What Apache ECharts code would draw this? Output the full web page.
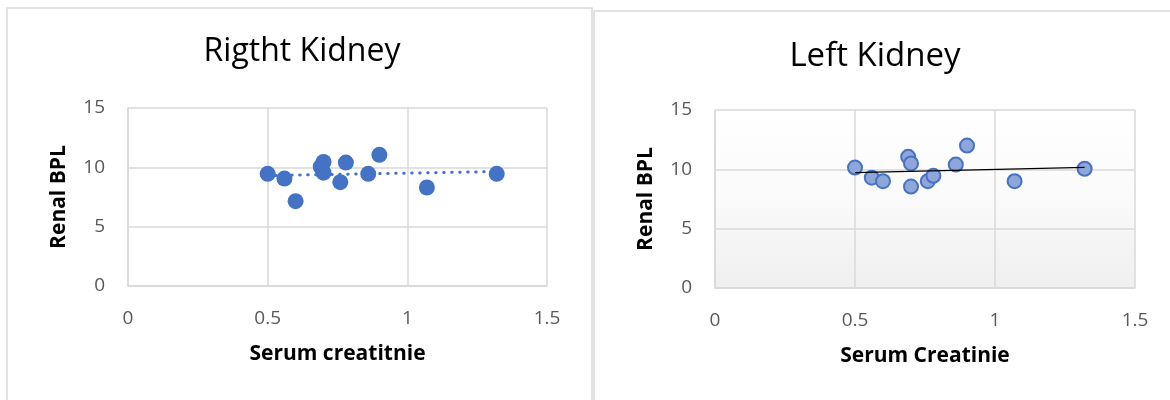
<!DOCTYPE html>
<html>
<head>
<meta charset="utf-8">
<script src="https://cdn.jsdelivr.net/npm/echarts@6/dist/echarts.min.js"></script>
<style>
  html, body { margin: 0; padding: 0; background: #fff; }
  #chart { width: 1170px; height: 400px; }
</style>
</head>
<body>
<div id="chart"></div>
<script>
// Right kidney (left panel)
var rightCreat = [0.50, 0.56, 0.60, 0.70, 0.69, 0.70, 0.78, 0.76, 0.86, 0.90, 1.07, 1.32]
var rightBpl = [9.45, 9.05, 7.15, 10.45, 10.05, 9.55, 10.4, 8.75, 9.45, 11.05, 8.3, 9.45]
// Left kidney (right panel)
var leftCreat = [0.50, 0.56, 0.60, 0.69, 0.70, 0.70, 0.76, 0.78, 0.86, 0.90, 1.07, 1.32]
var leftBpl = [10.15, 9.3, 9.0, 11.05, 10.5, 8.55, 9.0, 9.45, 10.4, 12.0, 9.0, 10.05]

var xTicks = [0, 0.5, 1, 1.5]
var yTicks = [0, 5, 10, 15]

function pairs (xs, ys) {
  return xs.map(function (x, i) { return [x, ys[i]] })
}

// least squares trendline endpoints
function trend (xs, ys) {
  var n = xs.length
  var mx = xs.reduce(function (a, b) { return a + b }, 0) / n
  var my = ys.reduce(function (a, b) { return a + b }, 0) / n
  var sxy = 0, sxx = 0
  for (var i = 0; i < n; i++) {
    sxy += (xs[i] - mx) * (ys[i] - my)
    sxx += (xs[i] - mx) * (xs[i] - mx)
  }
  var k = sxy / sxx
  var b = my - k * mx
  var x0 = Math.min.apply(null, xs)
  var x1 = Math.max.apply(null, xs)
  return [[x0, k * x0 + b], [x1, k * x1 + b]]
}

var gridColor = '#d9d9d9'
var labelColor = '#595959'
var font = 'Open Sans'

function xAxisFor (idx, name) {
  return {
    gridIndex: idx,
    type: 'value',
    min: xTicks[0],
    max: xTicks[xTicks.length - 1],
    interval: 0.5,
    name: name,
    nameLocation: 'middle',
    nameGap: 58,
    nameTextStyle: { fontFamily: font, fontWeight: 'bold', fontSize: 21, color: '#000' },
    axisLine: { show: true, lineStyle: { color: gridColor, width: 1.5 } },
    axisTick: { show: false },
    splitLine: { show: true, lineStyle: { color: gridColor, width: 1.5 } },
    axisLabel: { margin: 23, fontFamily: font, fontSize: 19, color: labelColor }
  }
}

function yAxisFor (idx) {
  return {
    gridIndex: idx,
    type: 'value',
    min: yTicks[0],
    max: yTicks[yTicks.length - 1],
    interval: 5,
    name: 'Renal BPL',
    nameLocation: 'middle',
    nameGap: 58,
    nameTextStyle: { fontFamily: font, fontWeight: 'bold', fontSize: 21, color: '#000' },
    axisLine: { show: true, lineStyle: { color: gridColor, width: 1.5 } },
    axisTick: { show: false },
    splitLine: { show: true, lineStyle: { color: gridColor, width: 1.5 } },
    axisLabel: { margin: 23, fontFamily: font, fontSize: 19, color: labelColor }
  }
}

var myChart = echarts.init(document.getElementById('chart'))
myChart.setOption({
  animation: false,
  backgroundColor: '#fff',
  title: [
    {
      text: 'Rigtht Kidney',
      left: 297,
      top: 31,
      textAlign: 'center',
      textStyle: { fontFamily: font, fontWeight: 'normal', fontSize: 32, color: '#000' }
    },
    {
      text: 'Left Kidney',
      left: 870,
      top: 35,
      textAlign: 'center',
      textStyle: { fontFamily: font, fontWeight: 'normal', fontSize: 33, color: '#000' }
    }
  ],
  graphic: [
    { type: 'rect', shape: { x: 7, y: 8, width: 585, height: 400 }, style: { fill: 'none', stroke: gridColor, lineWidth: 1.5 }, z: -10 },
    { type: 'rect', shape: { x: 594, y: 11, width: 590, height: 400 }, style: { fill: 'none', stroke: gridColor, lineWidth: 1.5 }, z: -10 }
  ],
  grid: [
    { left: 128, top: 108, width: 419, height: 178 },
    {
      left: 715,
      top: 110,
      width: 420,
      height: 178,
      show: true,
      borderWidth: 0,
      backgroundColor: {
        type: 'linear', x: 0, y: 0, x2: 0, y2: 1,
        colorStops: [
          { offset: 0, color: '#ffffff' },
          { offset: 0.45, color: '#fbfbfb' },
          { offset: 1, color: '#efefef' }
        ]
      }
    }
  ],
  xAxis: [xAxisFor(0, 'Serum creatitnie'), xAxisFor(1, 'Serum Creatinie')],
  yAxis: [yAxisFor(0), yAxisFor(1)],
  series: [
    {
      type: 'scatter',
      xAxisIndex: 0,
      yAxisIndex: 0,
      symbolSize: 16,
      itemStyle: { color: '#4472c4', opacity: 1 },
      data: pairs(rightCreat, rightBpl),
      z: 3
    },
    {
      type: 'line',
      xAxisIndex: 0,
      yAxisIndex: 0,
      showSymbol: false,
      symbol: 'none',
      lineStyle: { color: '#4472c4', width: 3, type: [0.5, 7.5], cap: 'round' },
      data: trend(rightCreat, rightBpl),
      z: 2
    },
    {
      type: 'scatter',
      xAxisIndex: 1,
      yAxisIndex: 1,
      symbolSize: 14,
      itemStyle: { color: '#8fa6da', borderColor: '#4472c4', borderWidth: 2, opacity: 1 },
      data: pairs(leftCreat, leftBpl),
      z: 3
    },
    {
      type: 'line',
      xAxisIndex: 1,
      yAxisIndex: 1,
      showSymbol: false,
      symbol: 'none',
      lineStyle: { color: '#000', width: 1.3 },
      data: trend(leftCreat, leftBpl),
      z: 4
    }
  ]
})
</script>
</body>
</html>
